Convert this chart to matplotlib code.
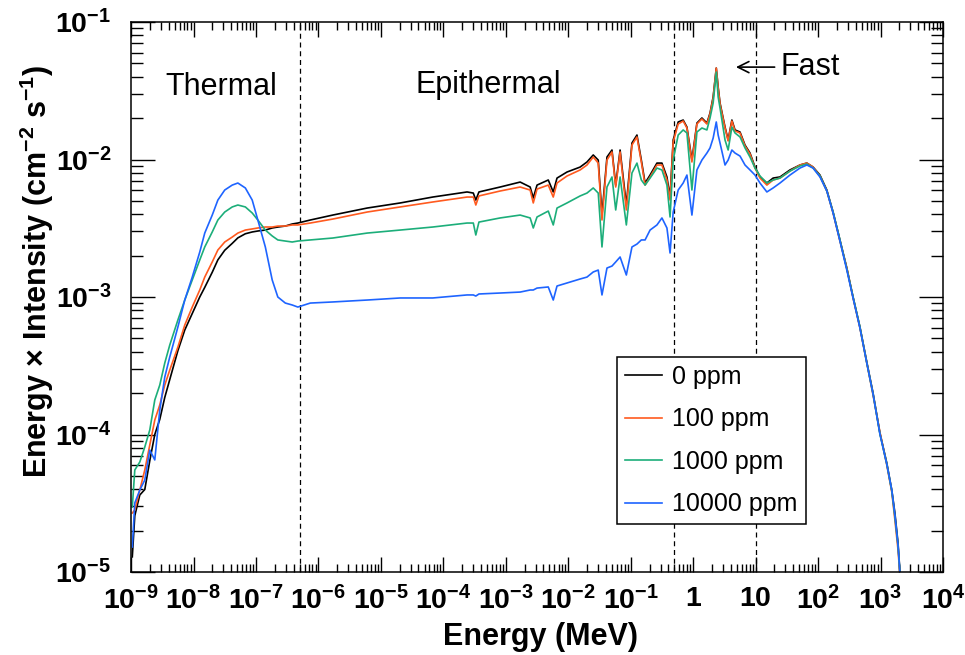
"""Neutron spectrum (energy x intensity) for several boron concentrations."""

import numpy as np
import matplotlib

matplotlib.use("Agg")
import matplotlib.pyplot as plt
from matplotlib.ticker import FixedLocator, LogLocator, NullFormatter

plt.rcParams["font.family"] = ["Liberation Sans", "DejaVu Sans"]
plt.rcParams["mathtext.fontset"] = "custom"
plt.rcParams["mathtext.rm"] = "Liberation Sans:bold"
plt.rcParams["mathtext.bf"] = "Liberation Sans:bold"
plt.rcParams["mathtext.it"] = "Liberation Sans:bold:italic"

# log10(energy / MeV)
log_energy = [
    -8.98, -8.94, -8.86, -8.78, -8.70, -8.62, -8.54, -8.46, -8.38, -8.25,
    -8.14, -8.02, -7.90, -7.82, -7.70, -7.61, -7.50, -7.38, -7.29, -7.17,
    -7.06, -6.97, -6.85, -6.74, -6.65, -6.53, -6.42, -6.33, -6.13, -5.77,
    -5.22, -4.69, -4.17, -3.62, -3.52, -3.48, -3.43, -3.09, -2.77, -2.61,
    -2.56, -2.50, -2.32, -2.24, -2.18, -2.02, -1.81, -1.70, -1.60, -1.52,
    -1.46, -1.38, -1.30, -1.24, -1.17, -1.07, -0.98, -0.90, -0.83, -0.77,
    -0.69, -0.58, -0.50, -0.42, -0.37, -0.32, -0.24, -0.16, -0.10, -0.02,
    0.06, 0.14, 0.22, 0.27, 0.32, 0.37, 0.40, 0.43, 0.51, 0.56,
    0.62, 0.67, 0.75, 0.83, 0.91, 0.99, 1.07, 1.18, 1.28, 1.39,
    1.55, 1.71, 1.82, 1.92, 2.03, 2.14, 2.24, 2.35, 2.46, 2.56,
    2.67, 2.78, 2.88, 2.99, 3.10, 3.18, 3.23, 3.28, 3.34,
]

# log10(energy x intensity / cm^-2 s^-1)
log_flux_0ppm = [
    -4.89, -4.59, -4.44, -4.40, -4.19, -4.00, -3.89, -3.73, -3.60, -3.39,
    -3.24, -3.12, -3.00, -2.93, -2.82, -2.73, -2.66, -2.61, -2.57, -2.54,
    -2.527, -2.520, -2.513, -2.498, -2.491, -2.484, -2.469, -2.462, -2.440, -2.404,
    -2.353, -2.316, -2.273, -2.236, -2.244, -2.295, -2.236, -2.200, -2.164, -2.200,
    -2.280, -2.186, -2.149, -2.236, -2.135, -2.091, -2.055, -2.018, -1.967, -2.004,
    -2.404, -1.982, -1.931, -2.186, -1.931, -2.331, -1.880, -1.822, -2.004, -2.171,
    -2.113, -2.026, -2.026, -2.127, -2.273, -1.858, -1.727, -1.713, -1.764, -2.004,
    -1.735, -1.698, -1.735, -1.662, -1.545, -1.335, -1.473, -1.589, -1.764, -1.858,
    -1.713, -1.785, -1.800, -1.895, -1.953, -2.055, -2.127, -2.171, -2.135, -2.127,
    -2.076, -2.040, -2.026, -2.055, -2.113, -2.222, -2.382, -2.585, -2.789, -3.000,
    -3.218, -3.473, -3.698, -3.989, -4.207, -4.404, -4.571, -4.789, -5.2,
]

log_flux_100ppm = [
    -4.571, -4.549, -4.404, -4.258, -4.076, -3.895, -3.785, -3.640, -3.531, -3.364,
    -3.204, -3.073, -2.949, -2.855, -2.745, -2.658, -2.600, -2.564, -2.535, -2.513,
    -2.505, -2.498, -2.491, -2.491, -2.484, -2.484, -2.476, -2.476, -2.462, -2.433,
    -2.382, -2.345, -2.309, -2.273, -2.273, -2.331, -2.265, -2.229, -2.200, -2.222,
    -2.316, -2.215, -2.186, -2.273, -2.171, -2.120, -2.076, -2.040, -1.982, -2.026,
    -2.440, -2.004, -1.945, -2.200, -1.945, -2.367, -1.895, -1.836, -2.018, -2.186,
    -2.127, -2.040, -2.040, -2.149, -2.295, -1.873, -1.742, -1.720, -1.771, -2.018,
    -1.742, -1.705, -1.742, -1.669, -1.553, -1.335, -1.480, -1.596, -1.771, -1.865,
    -1.720, -1.793, -1.807, -1.902, -1.960, -2.062, -2.135, -2.186, -2.149, -2.135,
    -2.084, -2.040, -2.026, -2.055, -2.120, -2.229, -2.389, -2.593, -2.789, -3.007,
    -3.225, -3.480, -3.713, -3.982, -4.222, -4.418, -4.622, -4.840, -5.2,
]

log_flux_1000ppm = [
    -4.527, -4.258, -4.200, -4.091, -3.967, -3.749, -3.640, -3.480, -3.349, -3.167,
    -3.022, -2.876, -2.731, -2.636, -2.527, -2.440, -2.382, -2.345, -2.331, -2.345,
    -2.389, -2.440, -2.513, -2.556, -2.585, -2.593, -2.600, -2.593, -2.585, -2.571,
    -2.535, -2.513, -2.491, -2.462, -2.462, -2.549, -2.455, -2.425, -2.404, -2.425,
    -2.498, -2.418, -2.375, -2.476, -2.353, -2.316, -2.265, -2.244, -2.207, -2.244,
    -2.636, -2.200, -2.127, -2.367, -2.127, -2.476, -2.098, -2.026, -2.149, -2.186,
    -2.135, -2.062, -2.076, -2.186, -2.418, -2.004, -1.822, -1.785, -1.807, -2.222,
    -1.800, -1.771, -1.785, -1.698, -1.589, -1.364, -1.545, -1.625, -1.858, -1.931,
    -1.764, -1.807, -1.836, -1.916, -1.982, -2.062, -2.120, -2.171, -2.149, -2.135,
    -2.084, -2.047, -2.033, -2.062, -2.120, -2.229, -2.382, -2.585, -2.796, -3.000,
    -3.218, -3.480, -3.705, -3.996, -4.215, -4.411, -4.600, -4.811, -5.2,
]

log_flux_10000ppm = [
    -4.818, -4.498, -4.404, -4.331, -4.113, -4.185, -3.822, -3.582, -3.436, -3.218,
    -3.022, -2.855, -2.673, -2.535, -2.404, -2.295, -2.222, -2.186, -2.171, -2.207,
    -2.295, -2.440, -2.636, -2.876, -3.000, -3.044, -3.058, -3.073, -3.044, -3.036,
    -3.022, -3.007, -3.007, -2.985, -2.985, -2.993, -2.978, -2.971, -2.964, -2.949,
    -2.949, -2.935, -2.927, -3.022, -2.920, -2.898, -2.869, -2.855, -2.818, -2.804,
    -2.985, -2.789, -2.775, -2.745, -2.709, -2.840, -2.636, -2.615, -2.585, -2.585,
    -2.513, -2.476, -2.425, -2.498, -2.680, -2.382, -2.222, -2.171, -2.113, -2.404,
    -2.076, -2.004, -1.953, -1.916, -1.844, -1.727, -1.822, -1.880, -2.040, -2.004,
    -1.931, -1.953, -1.975, -2.040, -2.076, -2.113, -2.171, -2.236, -2.207, -2.171,
    -2.113, -2.062, -2.040, -2.062, -2.127, -2.229, -2.389, -2.593, -2.804, -3.007,
    -3.225, -3.480, -3.705, -3.996, -4.215, -4.404, -4.585, -4.804, -5.2,
]

series = [
    ("0 ppm", log_flux_0ppm, "#000000"),
    ("100 ppm", log_flux_100ppm, "#ff5a1f"),
    ("1000 ppm", log_flux_1000ppm, "#1cae7a"),
    ("10000 ppm", log_flux_10000ppm, "#1e64ff"),
]

region_edges = [5e-7, 0.5, 10.0]

x_decades = list(range(-9, 5))
x_tick_labels = [r"$10^{%d}$" % d for d in range(-9, 0)] + [r"$1$", r"$10$"] + [
    r"$10^{%d}$" % d for d in range(2, 5)
]
y_decades = list(range(-5, 0))
y_tick_labels = [r"$10^{%d}$" % d for d in y_decades]

fig = plt.figure(figsize=(9.65, 6.55), dpi=100)
ax = fig.add_axes([0.1358, 0.1267, 0.8414, 0.8397])

energy = np.power(10.0, log_energy)
for label, values, color in series:
    ax.plot(energy, np.power(10.0, values), color=color, lw=1.2, label=label)

for edge in region_edges:
    ax.axvline(edge, color="black", lw=0.9, ls=(0, (4, 3)), zorder=1)

ax.set_xscale("log")
ax.set_yscale("log")
ax.set_xlim(1e-9, 1e4)
ax.set_ylim(1e-5, 1e-1)

ax.xaxis.set_major_locator(FixedLocator([10.0 ** d for d in x_decades]))
ax.set_xticklabels(x_tick_labels)
ax.xaxis.set_minor_locator(LogLocator(base=10, subs=np.arange(2, 10), numticks=100))
ax.xaxis.set_minor_formatter(NullFormatter())
ax.yaxis.set_major_locator(FixedLocator([10.0 ** d for d in y_decades]))
ax.set_yticklabels(y_tick_labels)
ax.yaxis.set_minor_locator(LogLocator(base=10, subs=np.arange(2, 10), numticks=100))
ax.yaxis.set_minor_formatter(NullFormatter())

ax.tick_params(which="both", direction="in", top=True, right=True, width=1.0,
               labelsize=20.5)
ax.tick_params(axis="x", which="major", length=11, pad=10)
ax.tick_params(axis="x", which="minor", length=6)
ax.tick_params(axis="y", which="major", length=17, pad=14)
ax.tick_params(axis="y", which="minor", length=8.5)
for spine in ax.spines.values():
    spine.set_linewidth(1.1)

fig.text(0.5596, 0.027, "Energy (MeV)", ha="center", va="center",
         fontsize=22, fontweight="bold")
fig.text(0.038, 0.585,
         r"Energy $\times$ Intensity (cm$^{-2}$ s$^{-1}$)",
         ha="center", va="center", rotation=90, fontsize=22, fontweight="bold")

ax.text(0.042, 0.882, "Thermal", transform=ax.transAxes, fontsize=22,
        ha="left", va="center")
ax.text(0.350, 0.885, "Epithermal", transform=ax.transAxes, fontsize=22,
        ha="left", va="center")
ax.annotate("Fast", xy=(0.745, 0.918), xytext=(0.7995, 0.918),
            xycoords="axes fraction", textcoords="axes fraction",
            fontsize=22, ha="left", va="center",
            arrowprops=dict(arrowstyle="->", lw=1.2, color="black",
                            shrinkA=2, shrinkB=0, mutation_scale=20))

leg = ax.legend(loc="upper left", bbox_to_anchor=(0.5985, 0.391),
                fontsize=18, frameon=True, fancybox=False, framealpha=1,
                edgecolor="black", handlelength=1.5, handletextpad=0.4,
                labelspacing=0.74, borderpad=0.32, borderaxespad=0)
leg.get_frame().set_linewidth(1.1)
leg.set_zorder(5)

fig.savefig("out.png", dpi=100)
